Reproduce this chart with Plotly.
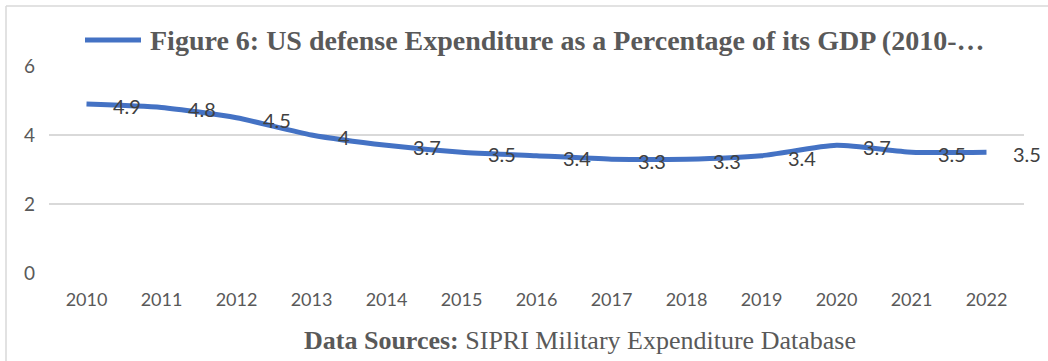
import plotly.graph_objects as go

years = ["2010", "2011", "2012", "2013", "2014", "2015", "2016",
         "2017", "2018", "2019", "2020", "2021", "2022"]
gdp_share = [4.9, 4.8, 4.5, 4.0, 3.7, 3.5, 3.4, 3.3, 3.3, 3.4, 3.7, 3.5, 3.5]
y_ticks = [0, 2, 4, 6]

series_name = "Figure 6: US defense Expenditure as a Percentage of its GDP (2010-…"
source_bold = "Data Sources:"
source_rest = " SIPRI Military Expenditure Database"

W, H = 1048, 361
L, R, T, B = 49, 24, 66, 88
pw, ph = W - L - R, H - T - B

def px_x(x):
    return (x - L) / pw

def px_y(y):
    return (H - B - y) / ph

LINE_BLUE = "#4472C4"
TEXT_GREY = "#595959"
LABEL_GREY = "#404040"
GRID_GREY = "#d9d9d9"
SANS = "Lato, 'Open Sans', sans-serif"
SERIF = "'Liberation Serif', 'Times New Roman', serif"

fig = go.Figure()
fig.add_trace(go.Scatter(
    x=years, y=gdp_share,
    mode="lines",
    name=series_name,
    line=dict(color=LINE_BLUE, width=5, shape="spline", smoothing=0.6),
    showlegend=False,
))

# value labels to the right of each point (category index on the x axis)
for i, v in enumerate(gdp_share):
    fig.add_annotation(x=i, y=v, xref="x", yref="y", text=f"{v:g}",
                       showarrow=False, xanchor="left", yanchor="middle",
                       xshift=24, yshift=-2,
                       font=dict(family=SANS, size=20, color=LABEL_GREY))

# legend-style key: line sample and series name
fig.add_shape(type="line", xref="paper", yref="paper",
              x0=px_x(85), x1=px_x(141), y0=px_y(40), y1=px_y(40),
              line=dict(color=LINE_BLUE, width=5))
fig.add_annotation(xref="paper", yref="paper", x=px_x(148), y=px_y(40),
                   xanchor="left", yanchor="middle", showarrow=False,
                   text=f"<b>{series_name}</b>",
                   font=dict(family=SERIF, size=28, color=TEXT_GREY))

# source note
fig.add_annotation(xref="paper", yref="paper", x=px_x(580), y=px_y(340),
                   xanchor="center", yanchor="middle", showarrow=False,
                   text=f"<b>{source_bold}</b>{source_rest}",
                   font=dict(family=SERIF, size=26, color=TEXT_GREY))

# chart frame (top and left edges)
fig.add_shape(type="line", xref="paper", yref="paper",
              x0=px_x(6), x1=px_x(6), y0=px_y(6), y1=px_y(H + 5),
              line=dict(color=GRID_GREY, width=1.5))
fig.add_shape(type="line", xref="paper", yref="paper",
              x0=px_x(6), x1=px_x(W + 5), y0=px_y(6), y1=px_y(6),
              line=dict(color=GRID_GREY, width=1.5))

fig.update_xaxes(
    type="category", categoryorder="array", categoryarray=years,
    range=[-0.5, len(years) - 0.5], autorange=False,
    showgrid=False, showline=False, zeroline=False, ticks="",
    tickfont=dict(family=SANS, size=18, color=TEXT_GREY),
    ticklabelstandoff=14,
)
fig.update_yaxes(
    range=[0, 6], tickvals=y_ticks,
    showgrid=True, gridcolor=GRID_GREY, gridwidth=1.5,
    zeroline=False, showline=False, ticks="",
    tickfont=dict(family=SANS, size=19, color=TEXT_GREY),
    ticklabelstandoff=13,
)
fig.update_layout(
    width=W, height=H,
    margin=dict(l=L, r=R, t=T, b=B, pad=0),
    plot_bgcolor="white", paper_bgcolor="white",
    showlegend=False,
)

fig.write_html("out.html")
